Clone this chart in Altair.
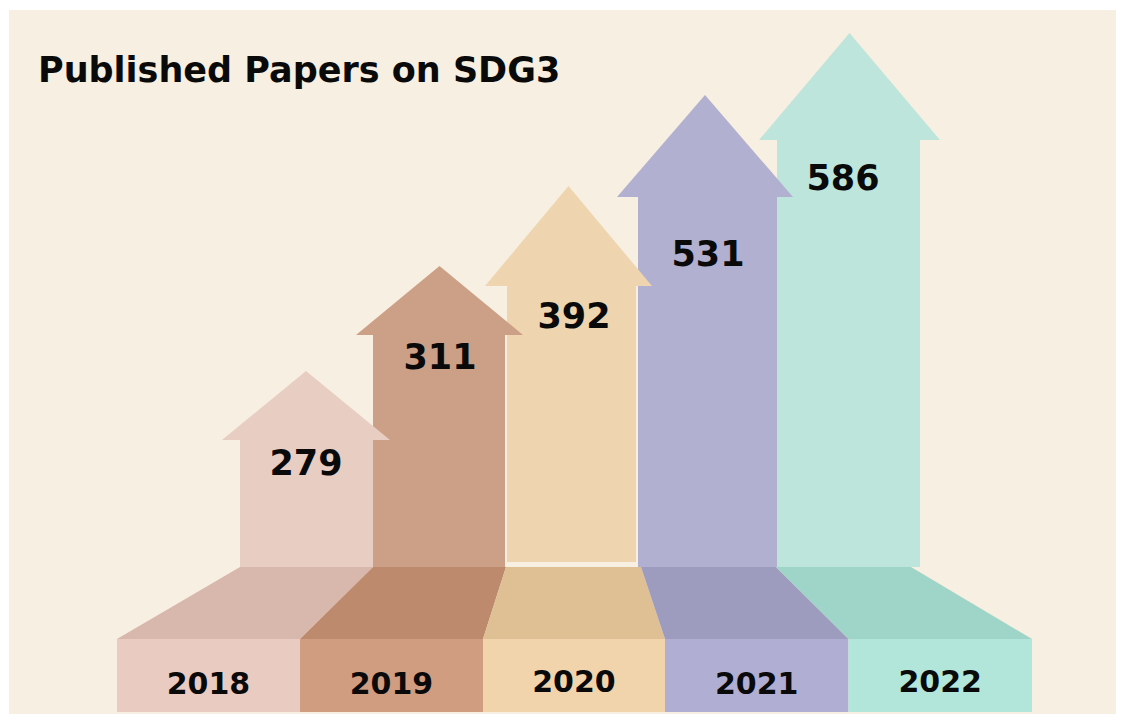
import altair as alt
import pandas as pd

# ---------------- data ----------------
years = ["2018", "2019", "2020", "2021", "2022"]
papers = [279, 311, 392, 531, 586]
title_text = "Published Papers on SDG3"

shaft_colors = ["#E8CDC2", "#CBA087", "#EED5B0", "#B1B0D0", "#BEE5DC"]
floor_colors = ["#D8B7AC", "#BD8A6E", "#DFBF94", "#9D9CBE", "#9FD4C8"]
box_colors = ["#EACBC1", "#D19D81", "#F2D4AC", "#B0AED2", "#B3E6DB"]
panel_color = "#F7EFE1"

# ---------------- layout (page pixel space of the infographic) ----------------
shaft_left = [240, 373, 507, 638, 777]
shaft_right = [373, 505, 636, 777, 920]
shaft_bottom = [567, 567, 562, 567, 567]
head_left = [222, 356, 485, 617, 759]
head_right = [390, 523, 652, 793, 940]
head_base = [440, 335, 286, 197, 140]
head_tip = [371, 266, 186, 95, 33]
floor_top_edges = [240, 373, 506, 641, 776, 911]
floor_bottom_edges = [117, 300, 483, 665, 848.5, 1032]
floor_top_y, floor_bottom_y, box_bottom_y = 567, 639, 712
value_label_x = [306, 440, 574, 708, 843]
value_label_y = [475, 369, 328, 266, 190]
year_label_y = [694, 694, 692, 694, 692]

W, H = 1108, 706
xs = alt.Scale(domain=[8, 8 + W], nice=False, zero=False)
ys = alt.Scale(domain=[8, 8 + H], nice=False, zero=False, reverse=True)


def X(f="x"):
    return alt.X(f"{f}:Q", scale=xs, axis=None)


def Y(f="y"):
    return alt.Y(f"{f}:Q", scale=ys, axis=None)


panel = pd.DataFrame({"x": [9], "x2": [8 + W], "y": [10], "y2": [8 + H]})

shafts = pd.DataFrame({
    "year": years,
    "x": shaft_left, "x2": shaft_right,
    "y": head_base, "y2": shaft_bottom,
    "fill": shaft_colors,
})

head_rows = []
for i, yr in enumerate(years):
    tipx = (head_left[i] + head_right[i]) / 2
    for xx, yy in [(head_left[i], head_base[i]), (tipx, head_tip[i]), (head_right[i], head_base[i])]:
        head_rows.append({"year": yr, "x": xx, "y": yy, "y2": head_base[i], "fill": shaft_colors[i]})
heads = pd.DataFrame(head_rows)

floor_rows = []
for i, yr in enumerate(years):
    floor_rows.append({"year": yr, "y": floor_top_y, "x": floor_top_edges[i], "x2": floor_top_edges[i + 1], "fill": floor_colors[i]})
    floor_rows.append({"year": yr, "y": floor_bottom_y, "x": floor_bottom_edges[i], "x2": floor_bottom_edges[i + 1], "fill": floor_colors[i]})
floors = pd.DataFrame(floor_rows)

boxes = pd.DataFrame({
    "year": years,
    "x": floor_bottom_edges[:-1], "x2": floor_bottom_edges[1:],
    "y": [floor_bottom_y] * 5, "y2": [box_bottom_y] * 5,
    "fill": box_colors,
})

values = pd.DataFrame({"x": value_label_x, "y": value_label_y, "label": [str(v) for v in papers]})
year_labels = pd.DataFrame({
    "x": [(floor_bottom_edges[i] + floor_bottom_edges[i + 1]) / 2 for i in range(5)],
    "y": year_label_y, "label": years,
})
title_df = pd.DataFrame({"x": [38], "y": [82], "label": [title_text]})

bg = alt.Chart(panel).mark_rect(color=panel_color).encode(x=X(), x2="x2:Q", y=Y(), y2="y2:Q")

floor_layer = alt.Chart(floors).mark_area(orient="horizontal", interpolate="linear").encode(
    y=Y(), x=X(), x2="x2:Q", color=alt.Color("fill:N", scale=None), detail="year:N"
)
box_layer = alt.Chart(boxes).mark_rect().encode(
    x=X(), x2="x2:Q", y=Y(), y2="y2:Q", color=alt.Color("fill:N", scale=None)
)
shaft_layer = alt.Chart(shafts).mark_rect().encode(
    x=X(), x2="x2:Q", y=Y(), y2="y2:Q", color=alt.Color("fill:N", scale=None)
)
head_layer = alt.Chart(heads).mark_area(interpolate="linear").encode(
    x=X(), y=Y(), y2="y2:Q", color=alt.Color("fill:N", scale=None), detail="year:N"
)
value_layer = alt.Chart(values).mark_text(
    font="DejaVu Sans", fontWeight="bold", fontSize=35, align="center", baseline="alphabetic", color="#0a0a0a"
).encode(x=X(), y=Y(), text="label:N")
year_layer = alt.Chart(year_labels).mark_text(
    font="DejaVu Sans", fontWeight="bold", fontSize=30, align="center", baseline="alphabetic", color="#0a0a0a"
).encode(x=X(), y=Y(), text="label:N")
title_layer = alt.Chart(title_df).mark_text(
    font="DejaVu Sans", fontWeight="bold", fontSize=35, align="left", baseline="alphabetic", color="#0a0a0a"
).encode(x=X(), y=Y(), text="label:N")

chart = alt.layer(
    bg, floor_layer, box_layer, shaft_layer, head_layer, value_layer, year_layer, title_layer
).properties(
    width=W, height=H, padding=0, background="white"
).configure_view(stroke=None)

chart.save("out.html", embed_options={"renderer": "svg", "actions": False})
